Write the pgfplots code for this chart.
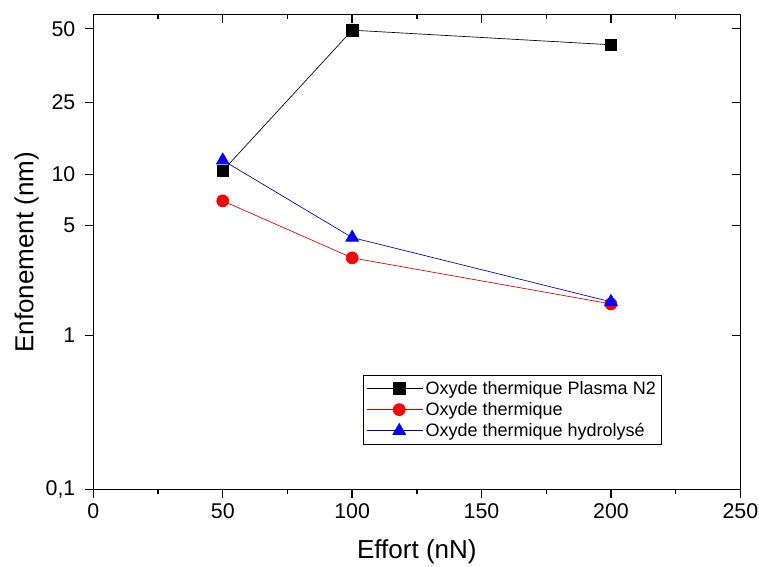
\documentclass[border=0pt]{standalone}
\usepackage{pgfplots}
\pgfplotsset{compat=1.18}
\usepackage{fontspec}
\setmainfont{Liberation Sans}

% piecewise logarithmic y scale of the original chart (knots at 0.1, 1, 5, 10, 25, 50)
\pgfplotsset{
  common/.style={
    scale only axis, width=485pt, height=356pt,
    xmin=0, xmax=250, ymin=0, ymax=4.75,
    xtick={0,50,...,250}, minor x tick num=1,
    ytick={0,1.54,2.64,3.15,3.87,4.61},
    major tick length=6pt, minor tick length=3.5pt,
    axis line style={line width=1.1pt},
    every tick/.style={line width=1.1pt, black},
    every minor tick/.style={line width=1.1pt, black},
  },
  mylog/.style={
    y filter/.expression={ifthenelse(ln(y)/2.302585<0, 1.54*(ln(y)/2.302585+1),
      ifthenelse(ln(y)/2.302585<0.69897, 1.54+1.5737*(ln(y)/2.302585),
      ifthenelse(ln(y)/2.302585<1, 2.64+1.6942*(ln(y)/2.302585-0.69897),
      ifthenelse(ln(y)/2.302585<1.39794, 3.15+1.8093*(ln(y)/2.302585-1),
      3.87+2.4582*(ln(y)/2.302585-1.39794)))))},
  },
}

\begin{document}
\begin{tikzpicture}
\begin{axis}[
  common,
  name=main,
  xtick pos=bottom, ytick pos=left,
  tick align=outside,
  yticklabels={{0,1},1,5,10,25,50},
  every tick label/.append style={font=\fontsize{16}{18}\selectfont},
  yticklabel style={xshift=-4pt},
  xticklabel style={yshift=-1pt},
  /pgf/number format/assume math mode=true,
  xlabel={Effort (nN)}, ylabel={Enfonement (nm)},
  every axis x label/.style={at={([yshift=-46.5pt]axis description cs:0.5,0)}, anchor=center,
    font=\fontsize{19.5}{22}\selectfont},
  every axis y label/.style={at={([xshift=-50pt]axis description cs:0,0.5)}, anchor=center, rotate=90,
    font=\fontsize{19.5}{22}\selectfont},
  legend style={at={(0.416,0.242)}, anchor=north west, draw=black, line width=0.6pt,
    font=\fontsize{13.5}{15.5}\selectfont, row sep=0.5pt, inner sep=2.5pt},
  legend cell align=left,
  legend image code/.code={\path (0pt,0pt) -- (42pt,0pt);
    \draw[mark repeat=2,mark phase=2,#1] plot coordinates {(8pt,0pt)(24.5pt,0pt)(41pt,0pt)};},
]
\addplot[mylog, black, line width=0.5pt, mark=square*, mark size=4.3pt, mark options={solid,fill=black}]
  coordinates {(50,10.5) (100,49.3) (200,43)};
\addlegendentry{Oxyde thermique Plasma N2}
\addplot[mylog, red!85!black, line width=0.5pt, mark=*, mark size=4.5pt, mark options={solid,fill=red,draw=red}]
  coordinates {(50,7.0) (100,3.12) (200,1.59)};
\addlegendentry{Oxyde thermique}
\addplot[mylog, blue!70!black, line width=0.5pt, mark=triangle*, mark size=5.5pt, mark options={solid,fill=blue,draw=blue}]
  coordinates {(50,12) (100,4.2) (200,1.64)};
\addlegendentry{Oxyde thermique hydrolysé}
\end{axis}
\begin{axis}[
  common,
  xtick pos=top, ytick pos=right,
  tick align=inside,
  xticklabels={}, yticklabels={},
]
\end{axis}
\pgfresetboundingbox
\path ([xshift=-70pt,yshift=-58pt]main.south west) rectangle ([xshift=14pt,yshift=11pt]main.north east);
\end{tikzpicture}
\end{document}
